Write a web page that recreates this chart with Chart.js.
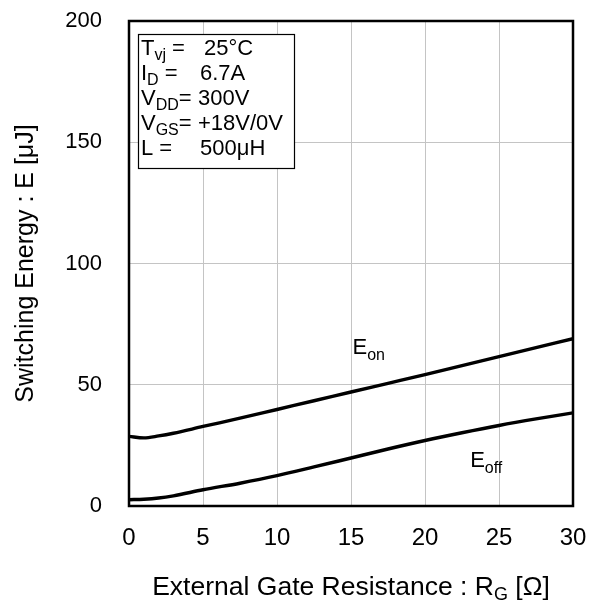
<!DOCTYPE html>
<html>
<head>
<meta charset="utf-8">
<script src="https://cdn.jsdelivr.net/npm/chart.js@4.4.0/dist/chart.umd.min.js"></script>
<style>
html,body{margin:0;padding:0;background:#fff;}
#wrap{width:596px;height:601px;position:relative;}
</style>
</head>
<body>
<div id="wrap"><canvas id="c" width="596" height="601"></canvas></div>
<script>
// ---- data ----
const rgValues = [0, 1, 2, 3, 5, 7.5, 10, 12.5, 15, 17.5, 20, 22.5, 25, 27.5, 30];
const eonValues = [28.7, 28.1, 28.9, 30.0, 32.8, 36.2, 39.8, 43.4, 47.0, 50.6, 54.2, 57.9, 61.6, 65.3, 69.0];
const eoffValues = [2.6, 2.8, 3.3, 4.2, 6.7, 9.4, 12.5, 16.1, 19.8, 23.5, 27.0, 30.2, 33.2, 35.9, 38.4];
const xTicks = [0, 5, 10, 15, 20, 25, 30];
const yTicks = [0, 50, 100, 150, 200];
const condMain = ['T', 'I', 'V', 'V', 'L'];
const condSub = ['vj', 'D', 'DD', 'GS', ''];
const condEq = [' =', ' =', '=', '=', ' ='];
const condValue = ['25°C', '6.7A', '300V', '+18V/0V', '500μH'];

const FONT = "'Liberation Sans', Arial, sans-serif";

function toPts(xs, ys){ return xs.map((x,i)=>({x:x, y:ys[i]})); }

function drawSubText(ctx, x, y, parts){
  let cx = x;
  parts.forEach(p=>{
    ctx.font = p.size + 'px ' + FONT;
    ctx.fillText(p.t, cx, y + (p.dy||0));
    cx += ctx.measureText(p.t).width;
  });
  return cx;
}
function measureParts(ctx, parts){
  let w = 0;
  parts.forEach(p=>{ ctx.font = p.size + 'px ' + FONT; w += ctx.measureText(p.t).width; });
  return w;
}

const overlay = {
  id: 'overlay',
  afterDraw(chart){
    const ctx = chart.ctx;
    const a = chart.chartArea;
    const xs = chart.scales.x, ys = chart.scales.y;
    ctx.save();
    // frame
    ctx.strokeStyle = '#000';
    ctx.lineWidth = 2.5;
    ctx.strokeRect(a.left, a.top, a.right - a.left, a.bottom - a.top);

    // condition box
    const bx = 138, by = 34, bw = 156, bh = 134;
    ctx.fillStyle = '#fff';
    ctx.fillRect(bx, by, bw, bh);
    ctx.lineWidth = 1.2;
    ctx.strokeRect(bx + 0.5, by + 0.5, bw, bh);
    ctx.fillStyle = '#000';
    ctx.textBaseline = 'alphabetic';
    ctx.textAlign = 'left';
    const valX = [204, 200, 198, 198, 200];
    condMain.forEach((m, i)=>{
      const yb = 54.5 + i * 25;
      const parts = [{t: m, size: 22}];
      if (condSub[i]) parts.push({t: condSub[i], size: 16, dy: 5});
      parts.push({t: condEq[i], size: 22});
      drawSubText(ctx, 141, yb, parts);
      ctx.font = '22px ' + FONT;
      ctx.fillText(condValue[i], valX[i], yb);
    });

    // curve labels
    const eonX = xs.getPixelForValue(15.1), eonY = ys.getPixelForValue(62.8);
    drawSubText(ctx, eonX, eonY, [{t:'E', size:22}, {t:'on', size:16, dy:6}]);
    const eoffX = xs.getPixelForValue(23.05), eoffY = ys.getPixelForValue(16.0);
    drawSubText(ctx, eoffX, eoffY, [{t:'E', size:22}, {t:'off', size:16, dy:6}]);

    // x-axis title with subscript
    const tparts = [{t:'External Gate Resistance : R', size:26.5}, {t:'G', size:18, dy:5}, {t:' [Ω]', size:26.5}];
    const tw = measureParts(ctx, tparts);
    const cx = (a.left + a.right) / 2;
    drawSubText(ctx, cx - tw/2, 595, tparts);
    ctx.restore();
  }
};

new Chart(document.getElementById('c'), {
  type: 'line',
  data: {
    datasets: [
      {label: 'Eon', data: toPts(rgValues, eonValues), borderColor: '#000', borderWidth: 3.4, pointRadius: 0, tension: 0.4, cubicInterpolationMode: 'monotone', fill: false},
      {label: 'Eoff', data: toPts(rgValues, eoffValues), borderColor: '#000', borderWidth: 3.4, pointRadius: 0, tension: 0.4, cubicInterpolationMode: 'monotone', fill: false}
    ]
  },
  options: {
    responsive: false,
    animation: false,
    devicePixelRatio: 1,
    layout: {padding: {top: 21, right: 23, left: 0, bottom: 0}},
    plugins: {legend: {display: false}, tooltip: {enabled: false}},
    scales: {
      x: {
        type: 'linear', min: 0, max: 30,
        afterBuildTicks: s => { s.ticks = xTicks.map(v => ({value: v})); },
        afterFit: s => { s.height = 95; s.paddingLeft = 0; s.paddingRight = 0; },
        grid: {color: '#c4c4c4', lineWidth: 1, drawTicks: false},
        border: {display: false},
        ticks: {color: '#000', font: {family: FONT, size: 24}, padding: 18, maxRotation: 0}
      },
      y: {
        type: 'linear', min: 0, max: 200,
        afterBuildTicks: s => { s.ticks = yTicks.map(v => ({value: v})); },
        afterFit: s => { s.width = 129; s.paddingTop = 0; s.paddingBottom = 0; },
        grid: {color: '#c4c4c4', lineWidth: 1, drawTicks: false},
        border: {display: false},
        ticks: {color: '#000', font: {family: FONT, size: 22}, padding: 27},
        title: {display: true, text: 'Switching Energy : E [μJ]', color: '#000', font: {family: FONT, size: 25}, padding: {top: 11, bottom: 0}}
      }
    }
  },
  plugins: [overlay]
});
</script>
</body>
</html>
